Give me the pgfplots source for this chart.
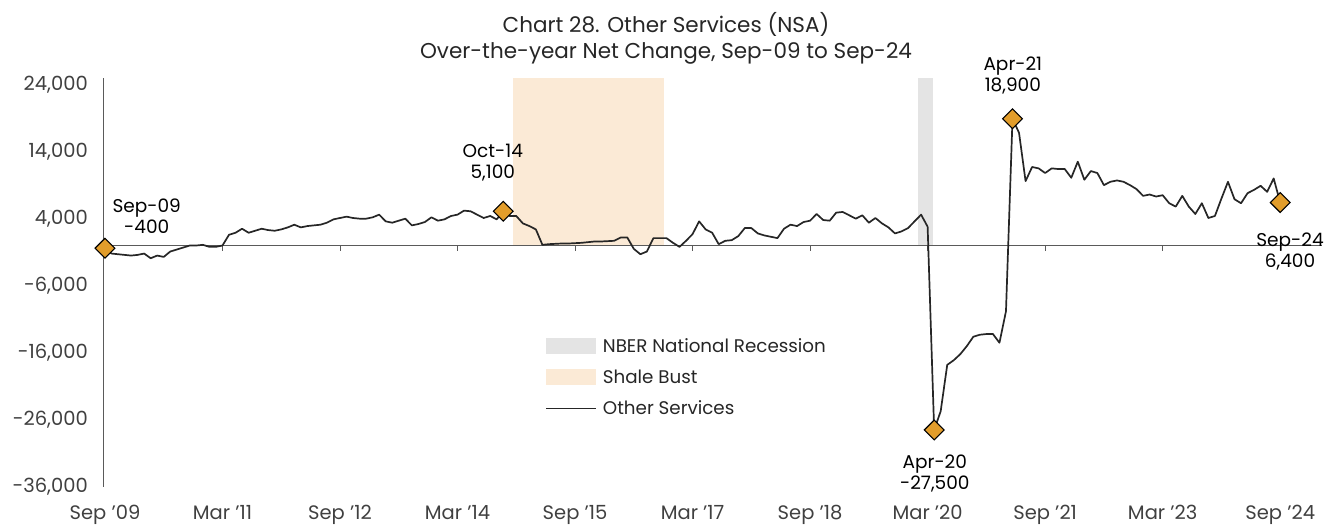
\documentclass[border=0pt]{standalone}
\usepackage{fontspec}
\setmainfont{Poppins}
\usepackage{pgfplots}
\pgfplotsset{compat=1.18}
\definecolor{lineblk}{HTML}{262626}
\definecolor{mk}{HTML}{E29D2B}
\definecolor{shale}{HTML}{FBEAD6}
\definecolor{nber}{HTML}{E4E4E4}
\definecolor{tickc}{HTML}{404040}
\definecolor{axc}{HTML}{5A5A5A}
\begin{document}
\begin{tikzpicture}
\path[use as bounding box] (0,0) rectangle (1333pt,527pt);
\node[font=\fontsize{21.5}{24}\selectfont, text=black!85] at (666pt,503pt) {Chart 28. Other Services (NSA)};
\node[font=\fontsize{21.5}{24}\selectfont, text=black!85] at (666pt,474pt) {Over-the-year Net Change, Sep-09 to Sep-24};
\begin{axis}[
  at={(103pt,40pt)}, anchor=south west,
  scale only axis, width=1219pt, height=409.2pt,
  xmin=-0.3, xmax=186.4, ymin=-36000, ymax=25000,
  axis x line*=bottom, axis y line*=left,
  x axis line style={draw=none},
  y axis line style={draw=axc, line width=1pt, -},
  xtick={0,18,36,54,72,90,108,126,144,162,180},
  xticklabels={Sep '09, Mar '11, Sep '12, Mar '14, Sep '15, Mar '17, Sep '18, Mar '20, Sep '21, Mar '23, Sep '24},
  ytick={-36000,-26000,-16000,-6000,4000,14000,24000},
  scaled y ticks=false,
  major tick length=0pt, tick style={draw=none},
  ticklabel style={font=\fontsize{19.5}{22}\selectfont, text=tickc},
  yticklabel style={anchor=east, inner sep=0pt, xshift=-15pt, /pgf/number format/assume math mode=true, /pgf/number format/1000 sep={,}},
  xticklabel style={anchor=north, inner sep=0pt, yshift=-18pt},
  clip=false,
  legend style={at={(0.3626,0.3666)}, anchor=north west, draw=none, fill=none, inner sep=0pt,
    font=\fontsize{18.3}{21}\selectfont, text=black!85, row sep=14pt,
    nodes={inner sep=1pt}, /tikz/every odd column/.append style={column sep=5pt}},
  legend cell align=left,
]
\addplot[fill=nber, draw=none, legend image code/.code={\fill[nber] (0pt,-8pt) rectangle (50pt,8pt);}]
  coordinates {(124.5,0) (124.5,25000) (126.8,25000) (126.8,0)} -- cycle;
\addlegendentry{NBER National Recession}
\addplot[fill=shale, draw=none, legend image code/.code={\fill[shale] (0pt,-8pt) rectangle (50pt,8pt);}]
  coordinates {(62.5,0) (62.5,25000) (85.6,25000) (85.6,0)} -- cycle;
\addlegendentry{Shale Bust}
\draw[axc, line width=1pt] (axis cs:-0.3,0) -- (axis cs:186.4,0);
\draw[axc, line width=1pt] (axis cs:18,0) -- ++(0pt,-5pt);
\draw[axc, line width=1pt] (axis cs:36,0) -- ++(0pt,-5pt);
\draw[axc, line width=1pt] (axis cs:54,0) -- ++(0pt,-5pt);
\draw[axc, line width=1pt] (axis cs:72,0) -- ++(0pt,-5pt);
\draw[axc, line width=1pt] (axis cs:90,0) -- ++(0pt,-5pt);
\draw[axc, line width=1pt] (axis cs:108,0) -- ++(0pt,-5pt);
\draw[axc, line width=1pt] (axis cs:126,0) -- ++(0pt,-5pt);
\draw[axc, line width=1pt] (axis cs:144,0) -- ++(0pt,-5pt);
\draw[axc, line width=1pt] (axis cs:162,0) -- ++(0pt,-5pt);
\draw[axc, line width=1pt] (axis cs:180,0) -- ++(0pt,-5pt);
\addplot[lineblk, line width=1.7pt, no marks, line join=round, legend image code/.code={\draw[lineblk, line width=1.7pt] (0pt,0pt) -- (50pt,0pt);}] coordinates {
(0,-400) (1,-1200) (2,-1300) (3,-1400) (4,-1500) (5,-1400) (6,-1200) (7,-1900) (8,-1500) (9,-1700)
(10,-900) (11,-600) (12,-300) (13,0) (14,0) (15,100) (16,-200) (17,-200) (18,0) (19,1600)
(20,1900) (21,2500) (22,1900) (23,2200) (24,2500) (25,2300) (26,2200) (27,2400) (28,2700) (29,3100)
(30,2700) (31,2900) (32,3000) (33,3100) (34,3400) (35,3900) (36,4100) (37,4300) (38,4100) (39,4000)
(40,4000) (41,4200) (42,4600) (43,3600) (44,3400) (45,3700) (46,4000) (47,3000) (48,3200) (49,3500)
(50,4200) (51,3700) (52,3900) (53,4400) (54,4600) (55,5200) (56,5100) (57,4600) (58,4100) (59,4400)
(60,3900) (61,5100) (62,4400) (63,4400) (64,3300) (65,2900) (66,2400) (67,100) (68,200) (69,250)
(70,300) (71,300) (72,350) (73,400) (74,500) (75,600) (76,600) (77,650) (78,700) (79,1200)
(80,1200) (81,-500) (82,-1300) (83,-900) (84,1100) (85,1100) (86,1100) (87,400) (88,-200) (89,700)
(90,1700) (91,3600) (92,2400) (93,1900) (94,200) (95,700) (96,800) (97,1400) (98,2600) (99,2600)
(100,1800) (101,1500) (102,1300) (103,1100) (104,2500) (105,3100) (106,2900) (107,3500) (108,3700) (109,4700)
(110,3800) (111,3700) (112,4900) (113,5000) (114,4500) (115,4000) (116,4500) (117,3400) (118,4100) (119,3300)
(120,2700) (121,1800) (122,2100) (123,2600) (124,3600) (125,4600) (126,2800) (127,-27500) (128,-24700) (129,-17800)
(130,-17100) (131,-16200) (132,-15000) (133,-13600) (134,-13300) (135,-13200) (136,-13200) (137,-14500) (138,-9800) (139,18900)
(140,16800) (141,9600) (142,11700) (143,11500) (144,10800) (145,11500) (146,11400) (147,11400) (148,10100) (149,12500)
(150,9800) (151,11100) (152,10800) (153,9000) (154,9500) (155,9700) (156,9500) (157,9000) (158,8400) (159,7400)
(160,7600) (161,7300) (162,7500) (163,6300) (164,5800) (165,7400) (166,5800) (167,4700) (168,6300) (169,4100)
(170,4400) (171,7000) (172,9500) (173,6900) (174,6300) (175,7800) (176,8300) (177,8900) (178,8000) (179,10000)
(180,6400)
};
\addlegendentry{Other Services}
\addplot[forget plot, only marks, mark=square*, mark size=7pt, mark options={rotate=45, fill=mk, draw=black, line width=1.1pt}]
  coordinates {(0,-400) (61,5100) (127,-27500) (139,18900) (180,6400)};
\begin{scope}[every node/.style={font=\fontsize{18.5}{21}\selectfont, align=center, text=black}]
\node at (axis cs:6.4,4400) {Sep-09\\-400};
\node at (axis cs:59.4,12290) {Oct-14\\5,100};
\node at (axis cs:139.05,25360) {Apr-21\\18,900};
\node at (axis cs:127.1,-34060) {Apr-20\\-27,500};
\node at (axis cs:181.5,-970) {Sep-24\\6,400};
\end{scope}
\end{axis}
\end{tikzpicture}
\end{document}
